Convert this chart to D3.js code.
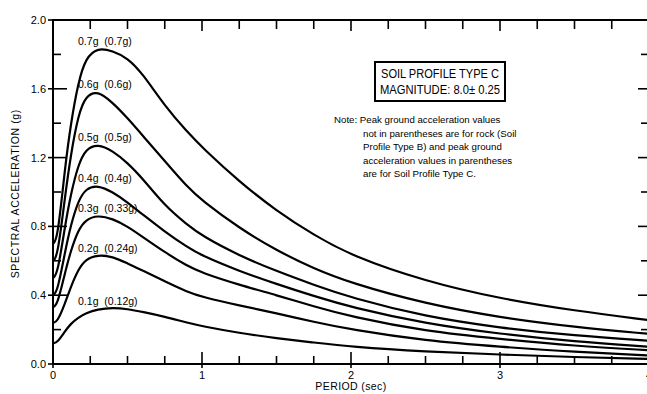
<!DOCTYPE html>
<html>
<head>
<meta charset="utf-8">
<script src="https://cdn.jsdelivr.net/npm/d3@7"></script>
<style>
  html, body { margin: 0; padding: 0; background: #fff; }
  svg { display: block; }
  text { font-family: "Liberation Sans", Arial, sans-serif; fill: #000; }
</style>
</head>
<body>
<svg id="chart" width="647" height="394"></svg>
<script>
// period grid (sec) shared by all spectra
const periods = [0, 0.03, 0.08, 0.12, 0.17, 0.22, 0.3, 0.4, 0.5, 0.6, 0.75, 0.9, 1.0, 1.25, 1.5, 1.75, 2.0, 2.5, 3.0, 3.5, 4.0];

// spectral acceleration (g), one array per curve
const sa07 = [0.70, 0.72, 1.14, 1.40, 1.64, 1.78, 1.84, 1.82, 1.78, 1.69, 1.50, 1.35, 1.26, 1.06, 0.89, 0.75, 0.63, 0.48, 0.38, 0.31, 0.255];
const sa06 = [0.60, 0.62, 0.97, 1.22, 1.45, 1.56, 1.59, 1.52, 1.43, 1.33, 1.18, 1.03, 0.95, 0.79, 0.66, 0.555, 0.47, 0.35, 0.27, 0.215, 0.175];
const sa05 = [0.50, 0.52, 0.80, 0.99, 1.16, 1.25, 1.28, 1.24, 1.17, 1.08, 0.92, 0.81, 0.745, 0.63, 0.54, 0.46, 0.385, 0.275, 0.21, 0.165, 0.135];
const sa04 = [0.40, 0.42, 0.65, 0.81, 0.95, 1.02, 1.04, 1.00, 0.94, 0.87, 0.77, 0.68, 0.63, 0.54, 0.465, 0.395, 0.33, 0.235, 0.175, 0.13, 0.10];
const sa03 = [0.33, 0.345, 0.53, 0.66, 0.78, 0.84, 0.865, 0.845, 0.80, 0.74, 0.65, 0.57, 0.53, 0.46, 0.40, 0.335, 0.275, 0.19, 0.145, 0.105, 0.08];
const sa02 = [0.24, 0.245, 0.35, 0.45, 0.55, 0.61, 0.635, 0.625, 0.585, 0.545, 0.48, 0.42, 0.39, 0.34, 0.295, 0.245, 0.20, 0.135, 0.10, 0.07, 0.05];
const sa01 = [0.12, 0.125, 0.19, 0.235, 0.27, 0.295, 0.318, 0.328, 0.32, 0.303, 0.275, 0.24, 0.22, 0.18, 0.15, 0.125, 0.10, 0.072, 0.055, 0.04, 0.03];

const rockPga = ['0.7g', '0.6g', '0.5g', '0.4g', '0.3g', '0.2g', '0.1g'];
const soilPga = ['0.7g', '0.6g', '0.5g', '0.4g', '0.33g', '0.24g', '0.12g'];
const spectra = [sa07, sa06, sa05, sa04, sa03, sa02, sa01];

const yTickLabels = [0, 0.4, 0.8, 1.2, 1.6, 2.0];
const xTickLabels = [0, 1, 2, 3, 4];

const boxLines = ['SOIL PROFILE TYPE C', 'MAGNITUDE: 8.0\u00B1 0.25'];
const noteLines = [
  'Note: Peak ground acceleration values',
  'not in parentheses are for rock (Soil',
  'Profile Type B) and peak ground',
  'acceleration values in parentheses',
  'are for Soil Profile Type C.'
];

/*
Layout
=================
 */
let margin = {top: 20, right: 0, bottom: 30, left: 53},
    width = 649,
    height = 394;

const svg = d3.select('#chart');

const x = d3.scaleLinear().domain([0, 4]).range([margin.left, width]);
const y = d3.scaleLinear().domain([0, 2]).range([height - margin.bottom, margin.top]);

// plot frame (right edge falls just off the page, like the scan)
svg.append('path')
    .attr('fill', 'none')
    .attr('stroke', '#000')
    .attr('stroke-width', 2)
    .attr('d', 'M' + x(4) + ',' + y(2) + 'H' + x(0) + 'V' + y(0) + 'H' + x(4) + 'V' + y(2));

/*
Ticks (inward, majors crossing the frame)
=================
 */
const minorY = d3.range(0, 2.001, 0.2);
const minorX = d3.range(0, 4.001, 0.25);
const isMajorY = function(v) { return Math.abs(v / 0.4 - Math.round(v / 0.4)) < 1e-6; };
const isMajorX = function(v) { return Math.abs(v - Math.round(v)) < 1e-6; };

const ticks = svg.append('g').attr('stroke', '#000').attr('stroke-width', 1.6);

ticks.selectAll('line.yl')
    .data(minorY)
    .enter().append('line')
    .attr('x1', function(d) { return isMajorY(d) ? x(0) - 5 : x(0); })
    .attr('x2', function(d) { return isMajorY(d) ? x(0) + 14 : x(0) + 8; })
    .attr('y1', function(d) { return y(d); })
    .attr('y2', function(d) { return y(d); });

ticks.selectAll('line.yr')
    .data(minorY)
    .enter().append('line')
    .attr('x1', x(4))
    .attr('x2', function(d) { return isMajorY(d) ? x(4) - 11 : x(4) - 8; })
    .attr('y1', function(d) { return y(d); })
    .attr('y2', function(d) { return y(d); });

ticks.selectAll('line.xb')
    .data(minorX)
    .enter().append('line')
    .attr('x1', function(d) { return x(d); })
    .attr('x2', function(d) { return x(d); })
    .attr('y1', function(d) { return isMajorX(d) ? y(0) + 4 : y(0); })
    .attr('y2', function(d) { return isMajorX(d) ? y(0) - 12 : y(0) - 8; });

ticks.selectAll('line.xt')
    .data(minorX)
    .enter().append('line')
    .attr('x1', function(d) { return x(d); })
    .attr('x2', function(d) { return x(d); })
    .attr('y1', y(2))
    .attr('y2', function(d) { return isMajorX(d) ? y(2) + 11 : y(2) + 9; });

svg.selectAll('text.ytick')
    .data(yTickLabels)
    .enter().append('text')
    .attr('class', 'ytick')
    .attr('x', x(0) - 7)
    .attr('y', function(d) { return y(d) + 4; })
    .attr('text-anchor', 'end')
    .attr('font-size', 11)
    .text(function(d) { return d3.format('.1f')(d); });

svg.selectAll('text.xtick')
    .data(xTickLabels)
    .enter().append('text')
    .attr('class', 'xtick')
    .attr('x', function(d) { return x(d); })
    .attr('y', y(0) + 15)
    .attr('text-anchor', 'middle')
    .attr('font-size', 11)
    .text(function(d) { return d; });

svg.append('text')
    .attr('x', x(2))
    .attr('y', 390)
    .attr('text-anchor', 'middle')
    .attr('font-size', 10.5)
    .attr('letter-spacing', 0.4)
    .text('PERIOD (sec)');

svg.append('text')
    .attr('transform', 'translate(19,' + y(0.99) + ') rotate(-90)')
    .attr('text-anchor', 'middle')
    .attr('font-size', 10.5)
    .attr('letter-spacing', 0.6)
    .text('SPECTRAL ACCELERATION (g)');

/*
Curves
=================
 */
const line = d3.line()
    .x(function(d, i) { return x(periods[i]); })
    .y(function(d) { return y(d); })
    .curve(d3.curveBasis);

svg.append('g')
    .selectAll('path')
    .data(spectra)
    .enter().append('path')
    .attr('fill', 'none')
    .attr('stroke', '#000')
    .attr('stroke-width', 2.2)
    .attr('stroke-linejoin', 'round')
    .attr('d', line);

svg.append('g')
    .selectAll('text')
    .data(spectra)
    .enter().append('text')
    .attr('x', x(0.168))
    .attr('y', function(d) { return y(d3.max(d)) - 3; })
    .attr('font-size', 10.5)
    .style('white-space', 'pre')
    .text(function(d, i) { return rockPga[i] + '  (' + soilPga[i] + ')'; });

/*
Title box and note
=================
 */
svg.append('rect')
    .attr('x', 375)
    .attr('y', 62)
    .attr('width', 130)
    .attr('height', 39)
    .attr('fill', '#fff')
    .attr('stroke', '#000')
    .attr('stroke-width', 2);

svg.append('g')
    .selectAll('text')
    .data(boxLines)
    .enter().append('text')
    .attr('x', 440)
    .attr('y', function(d, i) { return 78 + i * 16; })
    .attr('text-anchor', 'middle')
    .attr('font-size', 12)
    .attr('textLength', function(d, i) { return i === 0 ? 118 : 120; })
    .attr('lengthAdjust', 'spacingAndGlyphs')
    .text(function(d) { return d; });

svg.append('g')
    .selectAll('text')
    .data(noteLines)
    .enter().append('text')
    .attr('x', function(d, i) { return i === 0 ? 334 : 363; })
    .attr('y', function(d, i) { return 123 + i * 13.5; })
    .attr('font-size', 9.7)
    .text(function(d) { return d; });
</script>
</body>
</html>
